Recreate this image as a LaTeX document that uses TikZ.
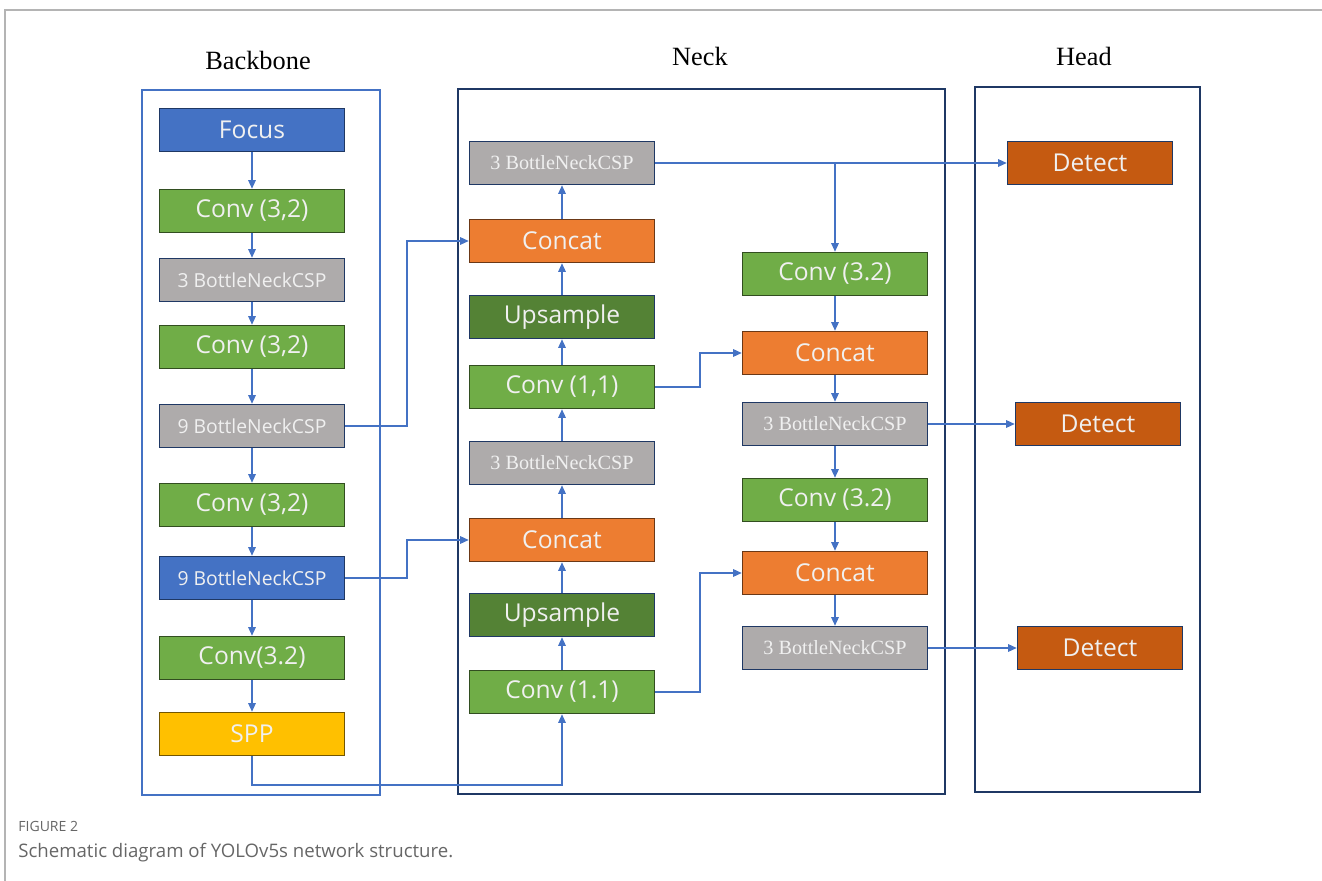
\documentclass[tikz,border=0pt]{standalone}
\usepackage{fontspec}
\setmainfont{Liberation Serif}
\newfontfamily\boxfont{Open Sans}
\usetikzlibrary{arrows.meta}

\definecolor{linkblue}{HTML}{4472C4}
\definecolor{navy}{HTML}{1F3864}
\definecolor{convgreen}{HTML}{70AD47}
\definecolor{upgreen}{HTML}{548235}
\definecolor{cspgray}{HTML}{AEABAB}
\definecolor{catorange}{HTML}{ED7D31}
\definecolor{sppyellow}{HTML}{FFC000}
\definecolor{detbrown}{HTML}{C55A11}
\definecolor{pagegray}{HTML}{B4B4B4}
\definecolor{capgray}{HTML}{666666}

\begin{document}
\begin{tikzpicture}[
  x=0.02cm,y=-0.02cm,
  >={Triangle[length=1.7mm,width=1.5mm]},
  link/.style={->,draw=linkblue,line width=.7pt},
  block/.style={line width=.9pt,minimum width=3.7cm,minimum height=.86cm,inner sep=0pt,
    text=white!94!black,font=\boxfont\fontsize{14}{16}\selectfont},
  conv/.style={block,fill=convgreen,draw=convgreen!45!black},
  upsmp/.style={block,fill=upgreen,draw=navy},
  cat/.style={block,fill=catorange,draw=catorange!45!black},
  csp/.style={block,fill=cspgray,draw=navy,font=\boxfont\fontsize{11}{13}\selectfont},
  cspserif/.style={csp,font=\fontsize{11.5}{13}\selectfont},
  blueblk/.style={block,fill=linkblue,draw=navy},
  detect/.style={block,fill=detbrown,draw=navy,minimum width=3.3cm},
  title/.style={anchor=base,font=\fontsize{15}{17}\selectfont}
]
  \useasboundingbox (0,0) rectangle (1322,881);
  \draw[pagegray,line width=.8pt] (5,881) -- (5,10) -- (1322,10);

  % frames
  \draw[linkblue,line width=.9pt] (142,90) rectangle (380,795);
  \draw[navy,line width=.9pt] (458,89) rectangle (945,794);
  \draw[navy,line width=.9pt] (975,87) rectangle (1200,792);
  \node[title] (tback) at (258,70) {Backbone};
  \node[title] (tneck) at (700,66) {Neck};
  \node[title] (thead) at (1084,66) {Head};

  % backbone
  \node[blueblk] (focus) at (252,130) {Focus};
  \node[conv] (b1) at (252,211) {Conv (3,2)};
  \node[csp] (b2) at (252,280) {3 BottleNeckCSP};
  \node[conv] (b3) at (252,347) {Conv (3,2)};
  \node[csp] (b4) at (252,426) {9 BottleNeckCSP};
  \node[conv] (b5) at (252,505) {Conv (3,2)};
  \node[blueblk,font=\boxfont\fontsize{11}{13}\selectfont] (b6) at (252,578) {9 BottleNeckCSP};
  \node[conv] (b7) at (252,658) {Conv(3.2)};
  \node[block,fill=sppyellow,draw=sppyellow!45!black] (spp) at (252,734) {SPP};

  % neck, left column
  \node[cspserif] (n1) at (562,163) {3 BottleNeckCSP};
  \node[cat] (n2) at (562,241) {Concat};
  \node[upsmp] (n3) at (562,317) {Upsample};
  \node[conv] (n4) at (562,387) {Conv (1,1)};
  \node[cspserif] (n5) at (562,463) {3 BottleNeckCSP};
  \node[cat] (n6) at (562,540) {Concat};
  \node[upsmp] (n7) at (562,615) {Upsample};
  \node[conv] (n8) at (562,692) {Conv (1.1)};

  % neck, right column
  \node[conv] (r1) at (835,274) {Conv (3.2)};
  \node[cat] (r2) at (835,353) {Concat};
  \node[cspserif] (r3) at (835,424) {3 BottleNeckCSP};
  \node[conv] (r4) at (835,500) {Conv (3.2)};
  \node[cat] (r5) at (835,573) {Concat};
  \node[cspserif] (r6) at (835,648) {3 BottleNeckCSP};

  % head
  \node[detect] (d1) at (1090,163) {Detect};
  \node[detect] (d2) at (1098,424) {Detect};
  \node[detect] (d3) at (1100,648) {Detect};

  \coordinate (busL) at (407,0);
  \coordinate (busM) at (700,0);
  \coordinate (busB) at (0,785);

  % backbone flow
  \foreach \a/\b in {focus/b1,b1/b2,b2/b3,b3/b4,b4/b5,b5/b6,b6/b7,b7/spp}
    \draw[link] (\a) -- (\b);
  \draw[link] (b4.east) -| (busL |- n2.west) -- (n2.west);
  \draw[link] (b6.east) -| (busL |- n6.west) -- (n6.west);
  \draw[link] (spp.south) -- (spp.south |- busB) -| (n8.south);

  % neck flow
  \foreach \a/\b in {n8/n7,n7/n6,n6/n5,n5/n4,n4/n3,n3/n2,n2/n1,r1/r2,r2/r3,r3/r4,r4/r5,r5/r6}
    \draw[link] (\a) -- (\b);
  \draw[link] (n1.east -| r1.north) -- (r1.north);
  \draw[link] (n4.east) -| (busM |- r2.west) -- (r2.west);
  \draw[link] (n8.east) -| (busM |- r5.west) -- (r5.west);

  % to head
  \draw[link] (n1.east) -- (d1.west);
  \draw[link] (r3.east) -- (d2.west);
  \draw[link] (r6.east) -- (d3.west);

  % caption
  \node[anchor=base west,inner sep=0pt,text=capgray,font=\boxfont\fontsize{8}{10}\selectfont] (figno) at (18,831) {FIGURE 2};
  \node[anchor=base west,inner sep=0pt,text=capgray,font=\boxfont\fontsize{10.6}{12}\selectfont] (figcap) at (18,857) {Schematic diagram of YOLOv5s network structure.};
\end{tikzpicture}
\end{document}
